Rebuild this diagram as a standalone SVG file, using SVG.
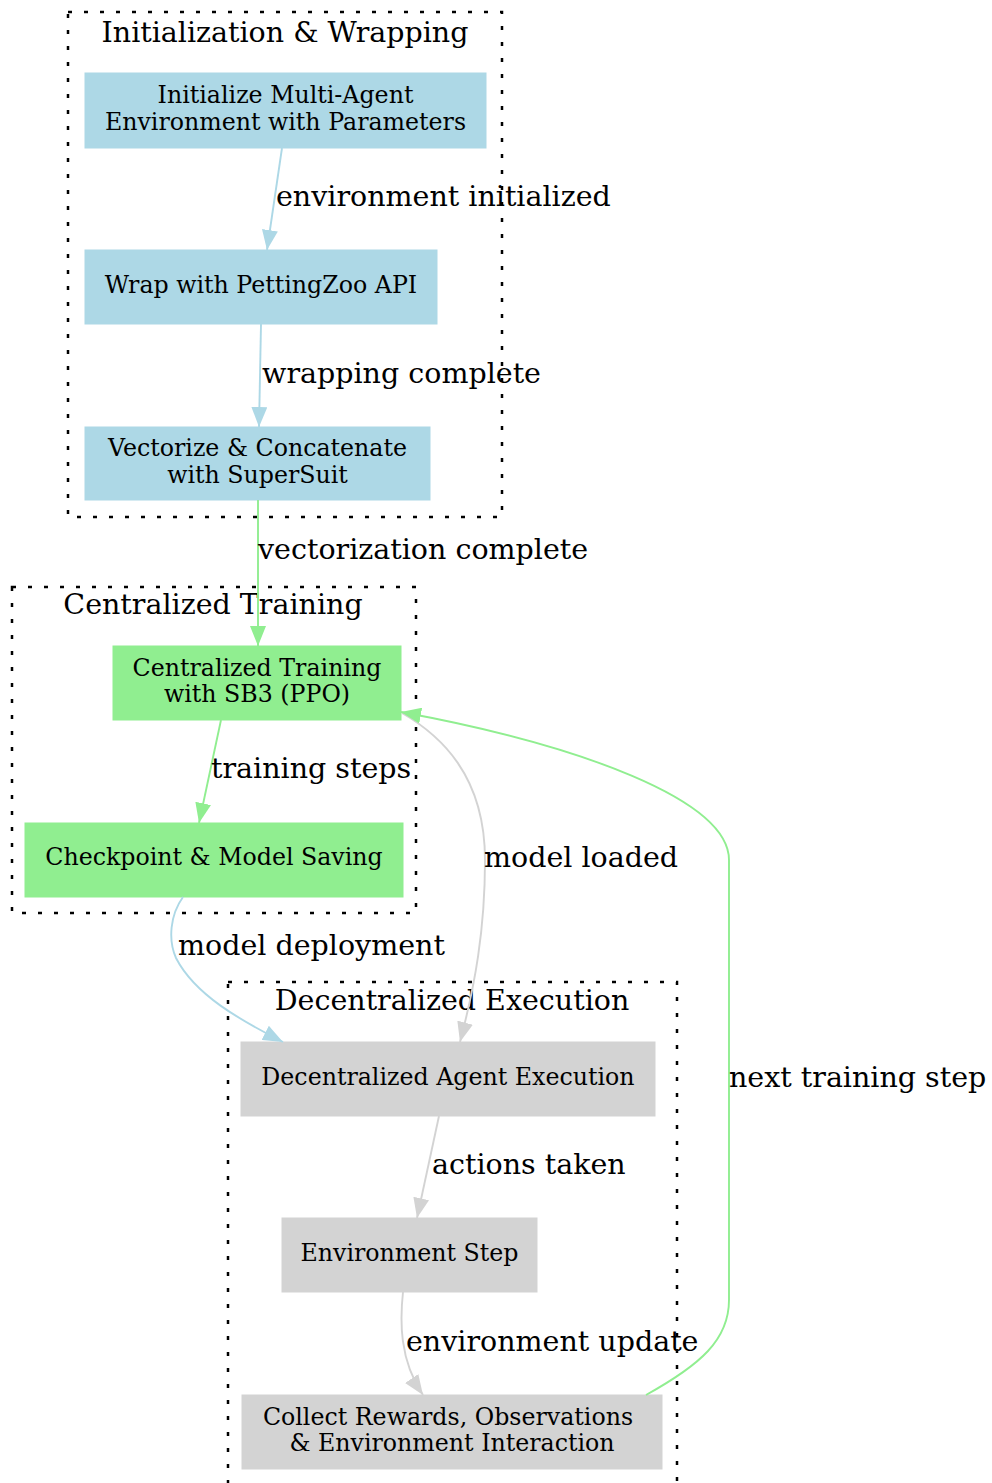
<svg xmlns="http://www.w3.org/2000/svg" width="992" height="1483" viewBox="0 0 992 1483">
<style>
.bg{fill:#ffffff}
.cl{fill:none;stroke:#000;stroke-width:2.5;stroke-dasharray:4,12}
.ct{font-family:"DejaVu Serif",serif;font-size:28.5px;fill:#000;text-anchor:middle}
.nt{font-family:"DejaVu Serif",serif;font-size:23.7px;fill:#000;text-anchor:middle}
.el{font-family:"DejaVu Serif",serif;font-size:28.5px;fill:#000}
.blue{fill:#add8e6;stroke:#add8e6}
.green{fill:#90ee90;stroke:#90ee90}
.gray{fill:#d3d3d3;stroke:#d3d3d3}
.eb{fill:none;stroke:#add8e6;stroke-width:1.9}
.eg{fill:none;stroke:#90ee90;stroke-width:1.9}
.ey{fill:none;stroke:#d3d3d3;stroke-width:1.9}
</style>
<defs>
<marker id="ab" viewBox="0 0 20 16" refX="20" refY="8" markerWidth="20" markerHeight="16" markerUnits="userSpaceOnUse" orient="auto"><path d="M0,0 L20,8 L0,16 z" fill="#add8e6"/></marker>
<marker id="ag" viewBox="0 0 20 16" refX="20" refY="8" markerWidth="20" markerHeight="16" markerUnits="userSpaceOnUse" orient="auto"><path d="M0,0 L20,8 L0,16 z" fill="#90ee90"/></marker>
<marker id="ay" viewBox="0 0 20 16" refX="20" refY="8" markerWidth="20" markerHeight="16" markerUnits="userSpaceOnUse" orient="auto"><path d="M0,0 L20,8 L0,16 z" fill="#d3d3d3"/></marker>
</defs>
<rect class="bg" x="0" y="0" width="992" height="1483"/>

<g id="cluster_init">
<rect class="cl" x="68" y="12" width="434" height="505"/>
<text class="ct" x="285" y="42">Initialization &amp; Wrapping</text>
</g>
<g id="cluster_train">
<rect class="cl" x="12" y="587" width="404" height="326"/>
<text class="ct" x="213" y="614">Centralized Training</text>
</g>
<g id="cluster_exec">
<rect class="cl" x="228" y="982" width="449" height="530"/>
<text class="ct" x="452" y="1010">Decentralized Execution</text>
</g>

<g id="node_init">
<rect class="blue" x="85" y="73" width="401" height="75"/>
<text class="nt" x="285.5" y="103">Initialize Multi-Agent</text>
<text class="nt" x="285.5" y="130">Environment with Parameters</text>
</g>
<g id="node_wrap">
<rect class="blue" x="85" y="250" width="352" height="74"/>
<text class="nt" x="261" y="293">Wrap with PettingZoo API</text>
</g>
<g id="node_vec">
<rect class="blue" x="85" y="427" width="345" height="73"/>
<text class="nt" x="257.5" y="456">Vectorize &amp; Concatenate</text>
<text class="nt" x="257.5" y="483">with SuperSuit</text>
</g>
<g id="node_train">
<rect class="green" x="113" y="646" width="288" height="74"/>
<text class="nt" x="257" y="676">Centralized Training</text>
<text class="nt" x="257" y="702">with SB3 (PPO)</text>
</g>
<g id="node_ckpt">
<rect class="green" x="25" y="823" width="378" height="74"/>
<text class="nt" x="214" y="865">Checkpoint &amp; Model Saving</text>
</g>
<g id="node_exec">
<rect class="gray" x="241" y="1042" width="414" height="74"/>
<text class="nt" x="448" y="1085">Decentralized Agent Execution</text>
</g>
<g id="node_step">
<rect class="gray" x="282" y="1218" width="255" height="74"/>
<text class="nt" x="409.5" y="1261">Environment Step</text>
</g>
<g id="node_collect">
<rect class="gray" x="242" y="1395" width="420" height="74"/>
<text class="nt" x="448" y="1425">Collect Rewards, Observations</text>
<text class="nt" x="452" y="1451">&amp; Environment Interaction</text>
</g>

<g id="connectors">
<path class="eb" d="M282,148 L267,250" marker-end="url(#ab)"/>
<text class="el" x="276" y="206">environment initialized</text>
<path class="eb" d="M261,324 L259,427" marker-end="url(#ab)"/>
<text class="el" x="262" y="383">wrapping complete</text>
<path class="eg" d="M258,500 L258,646" marker-end="url(#ag)"/>
<text class="el" x="258" y="559">vectorization complete</text>
<path class="eg" d="M221,720 L199,823" marker-end="url(#ag)"/>
<text class="el" x="211" y="778">training steps</text>
<path class="eb" d="M183,897 C170,915 168,940 176,958 C195,995 240,1020 283,1042" marker-end="url(#ab)"/>
<text class="el" x="178" y="955">model deployment</text>
<path class="ey" d="M402,713 C440,735 485,775 485,860 C485,930 475,985 460,1042" marker-end="url(#ay)"/>
<text class="el" x="484" y="867">model loaded</text>
<path class="eg" d="M646,1395 C700,1365 729,1340 729,1300 L729,860 C729,800 580,745 401,712" marker-end="url(#ag)"/>
<text class="el" x="729" y="1087">next training step</text>
<path class="ey" d="M439,1116 L417,1218" marker-end="url(#ay)"/>
<text class="el" x="432" y="1174">actions taken</text>
<path class="ey" d="M403,1292 C400,1320 399,1360 423,1395" marker-end="url(#ay)"/>
<text class="el" x="406" y="1351">environment update</text>
</g>
</svg>
